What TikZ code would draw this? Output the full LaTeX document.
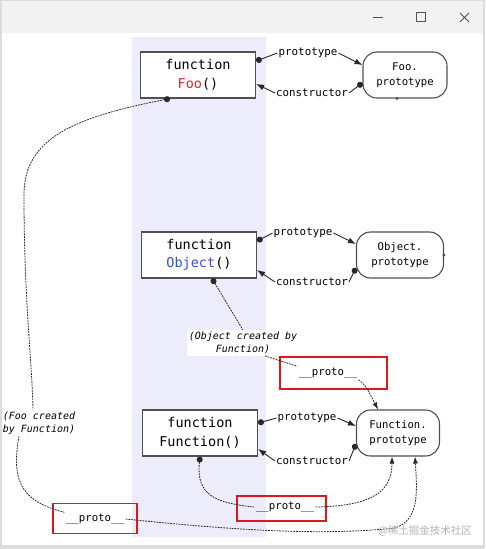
\documentclass[tikz,border=0pt]{standalone}
\usepackage{fontspec}
\setmonofont{DejaVu Sans Mono}
\newfontfamily\cjkfont{Noto Sans CJK SC}
\usetikzlibrary{arrows.meta}
\definecolor{bandblue}{RGB}{236,236,251}
\definecolor{boxgray}{RGB}{80,80,80}
\definecolor{linegray}{RGB}{40,40,40}
\definecolor{fooRed}{RGB}{222,40,40}
\definecolor{objBlue}{RGB}{55,80,215}
\definecolor{markRed}{RGB}{218,24,30}
\definecolor{chrome}{RGB}{242,242,242}
\definecolor{frame}{RGB}{220,220,220}
\begin{document}
\begin{tikzpicture}[x=1pt,y=-1pt,
    fbox/.style={draw=boxgray,line width=1.2pt,fill=white,minimum width=115pt,minimum height=46pt,
      align=center,inner sep=0pt,font=\ttfamily\fontsize{13.5}{18.5}\selectfont},
    pbox/.style={draw=boxgray,line width=1.1pt,fill=white,rounded corners=14pt,minimum height=46pt,
      align=center,inner sep=0pt,font=\ttfamily\fontsize{10.6}{14.5}\selectfont},
    lbl/.style={inner sep=1pt,font=\ttfamily\fontsize{10.8}{13}\selectfont},
    note/.style={fill=white,inner sep=2pt,align=center,font=\ttfamily\itshape\fontsize{10}{12.5}\selectfont},
    protolbl/.style={inner sep=1.5pt,font=\ttfamily\fontsize{10.7}{13}\selectfont},
    redbox/.style={draw=markRed,line width=1.8pt,inner sep=0pt},
    link/.style={line width=0.9pt,draw=linegray,{Circle[length=6pt]}-},
    arr/.style={line width=0.9pt,draw=linegray,-{Latex[length=8pt,width=6pt]}},
    proto/.style={line width=0.8pt,draw=linegray,dash pattern=on 1.8pt off 1pt},
    protodot/.style={proto,{Circle[length=6pt]}-},
    protoarr/.style={proto,-{Latex[length=7pt,width=5pt]}}]
  \useasboundingbox (0,0) rectangle (485,549);
  % window
  \fill[frame] (0,0) rectangle (485,549);
  \fill[chrome] (2,1) rectangle (483,33);
  \fill[white] (2,33) rectangle (483,545);
  \draw[linegray!80,line width=1pt] (373,17) -- (383,17);
  \draw[linegray!80,line width=1pt] (416,12) rectangle (425,21);
  \draw[linegray!80,line width=1pt] (460,13) -- (469,22) (469,13) -- (460,22);
  \fill[bandblue] (132,37) rectangle (266,537);

  % functions and prototypes
  \node[fbox] (foo) at (198,75) {function\\\textcolor{fooRed}{Foo}()};
  \node[pbox,minimum width=84pt] (fooP) at (405,75) {Foo.\\prototype};
  \node[fbox] (obj) at (199,255) {function\\\textcolor{objBlue}{Object}()};
  \node[pbox,minimum width=87pt] (objP) at (400,255) {Object.\\prototype};
  \node[fbox] (fn) at (200,433) {function\\Function()};
  \node[pbox,minimum width=83pt] (fnP) at (398,433) {Function.\\prototype};

  \node[lbl] (fooPt) at (308,53) {prototype};
  \node[lbl] (fooCt) at (312,93) {constructor};
  \node[lbl] (objPt) at (303,233) {prototype};
  \node[lbl] (objCt) at (312,282) {constructor};
  \node[lbl] (fnPt) at (307,418) {prototype};
  \node[lbl] (fnCt) at (312,461) {constructor};

  \draw[link] ([yshift=14pt]foo.east) -- (fooPt.west);
  \draw[arr] (fooPt.east) -- ([yshift=10pt]fooP.west);
  \draw[link] ([yshift=-8pt]fooP.west) -- (fooCt.east);
  \draw[arr] (fooCt.west) -- ([yshift=-9pt]foo.east);

  \draw[link] ([yshift=14pt]obj.east) -- (objPt.west);
  \draw[arr] (objPt.east) -- ([yshift=11pt]objP.west);
  \draw[link] ([yshift=-13pt]objP.west) -- (objCt.east);
  \draw[arr] (objCt.west) -- ([yshift=-15pt]obj.east);

  \draw[link] ([yshift=10pt]fn.east) -- (fnPt.west);
  \draw[arr] (fnPt.east) -- ([yshift=7pt]fnP.west);
  \draw[link] ([yshift=-11pt]fnP.west) -- (fnCt.east);
  \draw[arr] (fnCt.west) -- ([yshift=-16pt]fn.east);

  \fill[boxgray] ([xshift=-8pt]fooP.south) circle (1.6pt);
  \fill[boxgray] (objP.east) circle (1.6pt);

  % __proto__ links
  \node[note] (objNote) at (243,343) {(Object created by\\Function)};
  \node[protolbl] (proto1) at (328,373) {\_\_proto\_\_};
  \node[redbox,minimum width=107pt,minimum height=32pt] (red1) at (333.5,373) {};
  \draw[protodot] ([xshift=13pt]obj.south) -- (objNote.north);
  \draw[proto] ([xshift=22pt]objNote.south) -- (proto1.north west);
  \draw[protoarr] (proto1.south east) .. controls (366,386) .. ([xshift=-20pt]fnP.north);

  \node[protolbl] (proto2) at (285,507) {\_\_proto\_\_};
  \node[redbox,minimum width=89pt,minimum height=25pt] (red2) at (281.5,508.5) {};
  \draw[protodot] (fn.south) .. controls (196,495) and (215,503) .. (proto2.west);
  \draw[protoarr] (proto2.east) .. controls (372,506) and (392,492) .. ([xshift=-6pt]fnP.south);

  \node[note,fill=none] (fooNote) at (39,423) {(Foo created\\by Function)};
  \node[protolbl] (proto3) at (95,519) {\_\_proto\_\_};
  \node[redbox,minimum width=84pt,minimum height=30pt] (red3) at (95,518.5) {};
  \draw[protodot] ([xshift=-28pt]foo.south) .. controls (70,118) and (24,140) .. (24,195)
    .. controls (24,300) and (32,360) .. ([xshift=-6pt]fooNote.north);
  \draw[proto] ([xshift=-20pt]fooNote.south) .. controls (10,485) and (25,502) .. (proto3.north west);
  \draw[protoarr] (proto3.east) .. controls (250,532) and (330,535) .. (395,528)
    .. controls (420,520) and (417,490) .. ([xshift=17pt]fnP.south);

  \node[text=black!30,font=\cjkfont\fontsize{10.5}{12}\selectfont,inner sep=0pt] (mark) at (425,531) {@稀土掘金技术社区};
\end{tikzpicture}
\end{document}
